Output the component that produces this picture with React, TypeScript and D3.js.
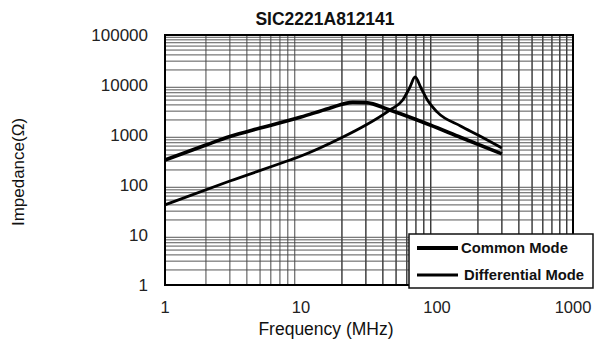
import React from 'react';
import * as d3 from 'd3';

// 共模 / 差模阻抗曲线
const cmFreq = [1, 2, 3, 5, 10, 16, 24, 30, 45, 70, 89, 150, 300];
const cmImpedance = [316, 630, 930, 1380, 2290, 3400, 4500, 4450, 3160, 2040, 1585, 890, 420];

const dmFreq = [1, 3, 8.3, 10, 20, 30, 45, 56, 63, 69, 76, 85, 100, 150, 200, 300];
const dmImpedance = [40, 120, 316, 380, 890, 1585, 3160, 5000, 8900, 14450, 8900, 5000, 2900, 1500, 1000, 550];

const xTicks = [1, 10, 100, 1000];
const yTicks = [1, 10, 100, 1000, 10000, 100000];
const legendItems = ['Common Mode', 'Differential Mode'];

const W = 595;
const H = 341;
const margin = { top: 35, right: 22, bottom: 56, left: 165 };

const App: React.FC = () => {
  const x = d3.scaleLog().domain([1, 1000]).range([margin.left, W - margin.right]);
  const y = d3.scaleLog().domain([1, 100000]).range([H - margin.bottom, margin.top]);

  // 网格：每个十倍程内 2..9
  const xMinor: number[] = [];
  for (let d = 1; d < 1000; d *= 10) for (let k = 2; k <= 9; k++) xMinor.push(d * k);
  const yMinor: number[] = [];
  for (let d = 1; d < 100000; d *= 10) for (let k = 2; k <= 9; k++) yMinor.push(d * k);

  const line = d3.line<[number, number]>()
    .x(d => x(d[0]))
    .y(d => y(d[1]))
    .curve(d3.curveMonotoneX);

  const cmPath = line(cmFreq.map((f, i) => [f, cmImpedance[i]] as [number, number])) || '';
  const dmPath = line(dmFreq.map((f, i) => [f, dmImpedance[i]] as [number, number])) || '';

  const [x0, x1] = x.range();
  const [y0, y1] = y.range();
  const font = 'Arial, "Liberation Sans", Helvetica, sans-serif';

  return (
    <svg width={W} height={H} style={{ position: 'absolute', left: 0, top: 0, background: '#fff' }} fontFamily={font}>
      <text x={325} y={25} textAnchor="middle" fontSize={17.5} fontWeight="bold" fill="#111">SIC2221A812141</text>

      {/* 网格 */}
      {xMinor.map(v => (
        <line key={'vx' + v} x1={x(v)} x2={x(v)} y1={y1} y2={y0}
          stroke={v % 10 === 0 ? '#111' : '#333'} strokeWidth={v % 10 === 0 ? 1.2 : 0.9} />
      ))}
      {yMinor.map(v => (
        <line key={'hy' + v} x1={x0} x2={x1} y1={y(v)} y2={y(v)}
          stroke={Number.isInteger(Math.log10(v)) ? '#111' : '#444'} strokeWidth={Number.isInteger(Math.log10(v)) ? 1.2 : 0.9} />
      ))}

      <rect x={x0} y={y1} width={x1 - x0} height={y0 - y1} fill="none" stroke="#000" strokeWidth={2} />

      {/* 曲线 */}
      <path d={cmPath} fill="none" stroke="#000" strokeWidth={3.6} strokeLinejoin="round" />
      <path d={dmPath} fill="none" stroke="#000" strokeWidth={2.8} strokeLinejoin="round" />

      {/* 坐标轴标签 */}
      {yTicks.map(v => (
        <text key={'yt' + v} x={148} y={y(v) + 6} textAnchor="end" fontSize={17} fill="#222">{v}</text>
      ))}
      {xTicks.map(v => (
        <text key={'xt' + v} x={x(v)} y={313} textAnchor="middle" fontSize={16.5} fill="#222">{v}</text>
      ))}
      <text x={326} y={335} textAnchor="middle" fontSize={17.5} fill="#111">Frequency (MHz)</text>
      <text transform={`translate(24,${172}) rotate(-90)`} textAnchor="middle" fontSize={17} fill="#111">Impedance(Ω)</text>

      {/* 图例 */}
      <rect x={409} y={234} width={184} height={54} fill="#fff" stroke="#111" strokeWidth={1.5} />
      {legendItems.map((name, i) => (
        <g key={name} transform={`translate(417,${248 + i * 27})`}>
          <line x1={0} x2={41} y1={0} y2={0} stroke="#000" strokeWidth={i === 0 ? 4 : 3} />
          <text x={i === 0 ? 44 : 47} y={5} fontSize={14.8} fontWeight="bold" fill="#111">{name}</text>
        </g>
      ))}
    </svg>
  );
};

export default App;
